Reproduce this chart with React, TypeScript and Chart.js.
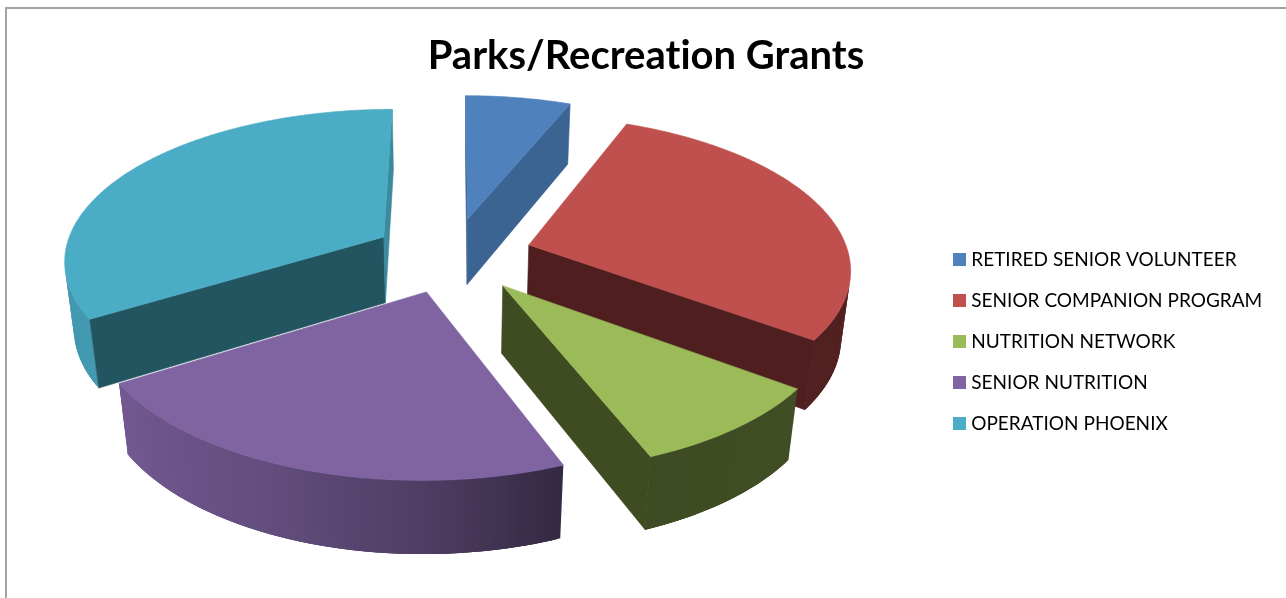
import React, { useEffect, useRef } from "react";
import { Chart, registerables } from "chart.js";

Chart.register(...registerables);

const chartTitle = "Parks/Recreation Grants";
const categories = [
  "RETIRED SENIOR VOLUNTEER",
  "SENIOR COMPANION PROGRAM",
  "NUTRITION NETWORK",
  "SENIOR NUTRITION",
  "OPERATION PHOENIX",
];
const shares = [6.2, 28.9, 8.9, 22.2, 33.8];
const topColors = ["#4F81BD", "#C0504D", "#9BBB59", "#8064A2", "#4BACC6"];
const cutColors = ["#3C6493", "#4F1E1E", "#3F4B21", "#4A3A60", "#235561"];
const endCutColors = ["#3C6493", "#4F1E1E", "#3F4B21", "#4A3A60", "#3C8A9E"];

// Perspective view of the pie, applied to the geometry of Chart.js's own arc elements.
const VIEW = { cx: 452.5, cy: 255, radius: 320, tilt: 0.47, persp: 0.141, depth: 68, drop: 0.024, explode: 80 };

type P = [number, number];
function project(X: number, Y: number, Z: number): P {
  const w = 1 / (1 - (VIEW.persp * Y) / VIEW.radius + VIEW.drop * Z);
  return [VIEW.cx + X * w, VIEW.cy + (VIEW.tilt * Y + VIEW.depth * Z) * w];
}

function area(pts: P[]) {
  let s = 0;
  pts.forEach((p, i) => {
    const q = pts[(i + 1) % pts.length];
    s += p[0] * q[1] - q[0] * p[1];
  });
  return s;
}

function fillPoly(ctx: CanvasRenderingContext2D, pts: P[], color: string, seam = 0.6) {
  ctx.beginPath();
  pts.forEach((p, i) => (i ? ctx.lineTo(p[0], p[1]) : ctx.moveTo(p[0], p[1])));
  ctx.closePath();
  ctx.fillStyle = color;
  ctx.fill();
  if (seam > 0) {
    ctx.strokeStyle = color;
    ctx.lineWidth = seam;
    ctx.stroke();
  }
}

function scaleColor(hex: string, f: number) {
  const n = parseInt(hex.slice(1), 16);
  const c = [(n >> 16) & 255, (n >> 8) & 255, n & 255].map((v) => Math.round(v * f));
  return `rgb(${c[0]},${c[1]},${c[2]})`;
}

// brightness of the outer wall by the clockwise bearing from the top of the pie
const wallStops: [number, number][] = [
  [0, 0.42], [125, 0.42], [158, 0.4], [180, 0.62], [205, 0.78], [240, 0.9], [270, 0.86], [360, 0.86],
];
function wallShade(deg: number) {
  for (let i = 1; i < wallStops.length; i++) {
    const [a0, f0] = wallStops[i - 1];
    const [a1, f1] = wallStops[i];
    if (deg <= a1) return f0 + ((f1 - f0) * (deg - a0)) / (a1 - a0);
  }
  return 0.86;
}

const pie3d = {
  id: "pie3d",
  beforeDraw(chart: any) {
    const { ctx, width } = chart;
    // keeps "ti" in the title from turning into a ligature
    ctx.letterSpacing = "0.01px";
    ctx.save();
    ctx.strokeStyle = "#A3A3A3";
    ctx.lineWidth = 2;
    ctx.beginPath();
    ctx.moveTo(6, chart.height);
    ctx.lineTo(6, 8);
    ctx.lineTo(width, 8);
    ctx.stroke();
    ctx.restore();
  },
  beforeDatasetsDraw(chart: any) {
    const { ctx } = chart;
    const arcs = chart.getDatasetMeta(0).data.map((el: any, i: number) => {
      const mid = (el.startAngle + el.endAngle) / 2;
      return { i, start: el.startAngle, end: el.endAngle, mid };
    });
    arcs.sort((a: any, b: any) => Math.sin(a.mid) - Math.sin(b.mid));
    ctx.save();
    for (const a of arcs) {
      const ex = Math.cos(a.mid) * VIEW.explode;
      const ey = Math.sin(a.mid) * VIEW.explode;
      const n = Math.max(16, Math.round(((a.end - a.start) * 360) / Math.PI));
      const rim: [number, number, number][] = [];
      for (let k = 0; k <= n; k++) {
        const t = a.start + ((a.end - a.start) * k) / n;
        rim.push([ex + Math.cos(t) * VIEW.radius, ey + Math.sin(t) * VIEW.radius, t]);
      }
      const apexTop = project(ex, ey, 0);
      const apexBot = project(ex, ey, 1);
      const first = rim[0];
      const last = rim[n];
      // outer wall, front-facing segments only, each overlapping the next to hide seams
      for (let k = 0; k < n; k++) {
        const p = rim[k];
        const q = rim[Math.min(k + 1, n)];
        const r = rim[Math.min(k + 3, n)];
        const quad: P[] = [project(p[0], p[1], 0), project(q[0], q[1], 0), project(q[0], q[1], 1), project(p[0], p[1], 1)];
        if (area(quad) >= 0) continue;
        const bearing = ((((p[2] + q[2]) / 2 + Math.PI / 2) * 180) / Math.PI + 360) % 360;
        fillPoly(
          ctx,
          [project(p[0], p[1], 0), project(r[0], r[1], 0), project(r[0], r[1], 1), project(p[0], p[1], 1)],
          scaleColor(topColors[a.i], wallShade(bearing)),
          0,
        );
      }
      // cut faces that look at the viewer
      const startCut: P[] = [apexTop, project(first[0], first[1], 0), project(first[0], first[1], 1), apexBot];
      if (area(startCut) < 0) fillPoly(ctx, startCut, cutColors[a.i]);
      const endCut: P[] = [apexTop, project(last[0], last[1], 0), project(last[0], last[1], 1), apexBot];
      if (area(endCut) > 0) fillPoly(ctx, endCut, endCutColors[a.i]);
      // top face
      fillPoly(ctx, [apexTop, ...rim.map((r) => project(r[0], r[1], 0))], topColors[a.i]);
    }
    ctx.restore();
    return false;
  },
};

function swatch(color: string) {
  const c = document.createElement("canvas");
  c.width = 13;
  c.height = 13;
  const g = c.getContext("2d")!;
  g.fillStyle = color;
  g.fillRect(0, 0, 13, 13);
  return c;
}

export default function App() {
  const ref = useRef<HTMLCanvasElement>(null);
  useEffect(() => {
    const chart = new Chart(ref.current!, {
      type: "pie",
      data: {
        labels: categories,
        datasets: [{ data: shares, backgroundColor: topColors, borderWidth: 0, offset: 50 }],
      },
      options: {
        animation: false,
        responsive: false,
        layout: { padding: { top: 12, right: 14, bottom: 0, left: 20 } },
        plugins: {
          title: {
            display: true,
            text: chartTitle,
            color: "#000",
            font: { family: "Lato", size: 40, weight: "bold" },
            padding: { top: 20, bottom: 5 },
          },
          tooltip: { enabled: false },
          legend: {
            position: "right",
            fullSize: false,
            labels: {
              color: "#111",
              font: { family: "Lato", size: 19 },
              padding: 22,
              boxWidth: 4,
              boxHeight: 13,
              usePointStyle: true,
              pointStyleWidth: 4,
              generateLabels: () =>
                categories.map((text, i) => ({
                  text,
                  fillStyle: topColors[i],
                  strokeStyle: topColors[i],
                  lineWidth: 0,
                  hidden: false,
                  index: i,
                  pointStyle: swatch(topColors[i]),
                })),
            },
          },
        },
      } as any,
      plugins: [pie3d],
    });
    return () => chart.destroy();
  }, []);
  return (
    <div style={{ position: "absolute", left: 0, top: 0, width: 1286, height: 598, background: "#fff" }}>
      <canvas ref={ref} width={1286} height={598} style={{ display: "block" }} />
    </div>
  );
}
